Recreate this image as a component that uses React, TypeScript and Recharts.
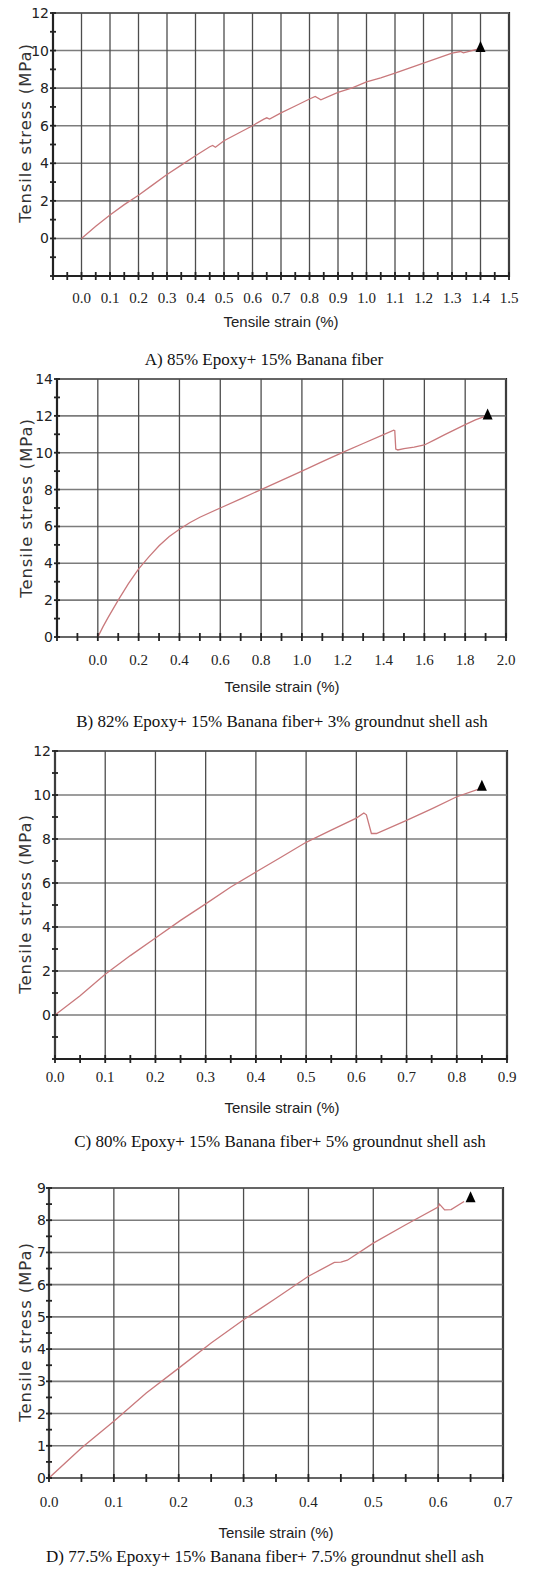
import React from "react";
import { ComposedChart, Line, Scatter, XAxis, YAxis, ReferenceLine, ReferenceArea } from "recharts";

// A) 85% Epoxy + 15% Banana fiber
const strainA = [0, 0.05, 0.1, 0.15, 0.2, 0.25, 0.3, 0.35, 0.4, 0.45, 0.46, 0.47, 0.5, 0.55, 0.6, 0.64, 0.65, 0.66, 0.7, 0.75, 0.8, 0.82, 0.84, 0.9, 0.95, 1.0, 1.05, 1.1, 1.15, 1.2, 1.25, 1.3, 1.33, 1.34, 1.37, 1.39];
const stressA = [0, 0.65, 1.25, 1.8, 2.3, 2.85, 3.4, 3.9, 4.4, 4.88, 4.95, 4.85, 5.2, 5.6, 6.0, 6.35, 6.42, 6.35, 6.68, 7.05, 7.42, 7.56, 7.38, 7.77, 8.02, 8.33, 8.55, 8.8, 9.07, 9.33, 9.6, 9.86, 9.95, 9.88, 10.0, 10.08];
const tipA = { x: 1.4, y: 10.16 };
const xMajorA = [0, 0.1, 0.2, 0.3, 0.4, 0.5, 0.6, 0.7, 0.8, 0.9, 1.0, 1.1, 1.2, 1.3, 1.4, 1.5];
const xTicksA = [-0.1, -0.05, 0, 0.05, 0.1, 0.15, 0.2, 0.25, 0.3, 0.35, 0.4, 0.45, 0.5, 0.55, 0.6, 0.65, 0.7, 0.75, 0.8, 0.85, 0.9, 0.95, 1.0, 1.05, 1.1, 1.15, 1.2, 1.25, 1.3, 1.35, 1.4, 1.45, 1.5];
const yMajorA = [0, 2, 4, 6, 8, 10, 12];
const yTicksA = [-2, -1, 0, 1, 2, 3, 4, 5, 6, 7, 8, 9, 10, 11, 12];

// B) 82% Epoxy + 15% Banana fiber + 3% groundnut shell ash
const strainB = [0, 0.025, 0.05, 0.1, 0.15, 0.2, 0.25, 0.3, 0.35, 0.4, 0.45, 0.5, 0.6, 0.7, 0.8, 0.9, 1.0, 1.1, 1.2, 1.3, 1.4, 1.45, 1.455, 1.46, 1.47, 1.5, 1.55, 1.6, 1.65, 1.7, 1.75, 1.8, 1.85, 1.9];
const stressB = [0, 0.55, 1.05, 2.0, 2.9, 3.7, 4.35, 4.95, 5.45, 5.85, 6.2, 6.5, 7.0, 7.5, 8.0, 8.5, 9.0, 9.52, 10.02, 10.5, 10.98, 11.22, 11.2, 10.2, 10.15, 10.22, 10.3, 10.42, 10.7, 10.98, 11.25, 11.52, 11.78, 11.98];
const tipB = { x: 1.91, y: 12.05 };
const xMajorB = [0, 0.2, 0.4, 0.6, 0.8, 1.0, 1.2, 1.4, 1.6, 1.8, 2.0];
const xTicksB = [-0.2, -0.1, 0, 0.1, 0.2, 0.3, 0.4, 0.5, 0.6, 0.7, 0.8, 0.9, 1.0, 1.1, 1.2, 1.3, 1.4, 1.5, 1.6, 1.7, 1.8, 1.9, 2.0];
const yMajorB = [0, 2, 4, 6, 8, 10, 12, 14];
const yTicksB = [0, 1, 2, 3, 4, 5, 6, 7, 8, 9, 10, 11, 12, 13, 14];

// C) 80% Epoxy + 15% Banana fiber + 5% groundnut shell ash
const strainC = [0, 0.05, 0.1, 0.15, 0.2, 0.25, 0.3, 0.35, 0.4, 0.45, 0.5, 0.55, 0.6, 0.615, 0.62, 0.63, 0.64, 0.7, 0.75, 0.8, 0.845];
const stressC = [0, 0.88, 1.85, 2.7, 3.5, 4.3, 5.05, 5.82, 6.5, 7.17, 7.85, 8.4, 8.95, 9.18, 9.1, 8.25, 8.25, 8.85, 9.37, 9.92, 10.28];
const tipC = { x: 0.85, y: 10.4 };
const xMajorC = [0, 0.1, 0.2, 0.3, 0.4, 0.5, 0.6, 0.7, 0.8, 0.9];
const xTicksC = [0, 0.05, 0.1, 0.15, 0.2, 0.25, 0.3, 0.35, 0.4, 0.45, 0.5, 0.55, 0.6, 0.65, 0.7, 0.75, 0.8, 0.85, 0.9];
const yMajorC = [0, 2, 4, 6, 8, 10, 12];
const yTicksC = [-2, -1, 0, 1, 2, 3, 4, 5, 6, 7, 8, 9, 10, 11, 12];

// D) 77.5% Epoxy + 15% Banana fiber + 7.5% groundnut shell ash
const strainD = [0, 0.05, 0.1, 0.15, 0.2, 0.25, 0.3, 0.35, 0.4, 0.44, 0.45, 0.46, 0.5, 0.55, 0.6, 0.602, 0.61, 0.62, 0.64];
const stressD = [0, 0.93, 1.76, 2.64, 3.41, 4.19, 4.91, 5.58, 6.26, 6.69, 6.7, 6.76, 7.29, 7.86, 8.41, 8.5, 8.32, 8.33, 8.58];
const tipD = { x: 0.65, y: 8.7 };
const xMajorD = [0, 0.1, 0.2, 0.3, 0.4, 0.5, 0.6, 0.7];
const xTicksD = [0, 0.05, 0.1, 0.15, 0.2, 0.25, 0.3, 0.35, 0.4, 0.45, 0.5, 0.55, 0.6, 0.65, 0.7];
const yMajorD = [0, 1, 2, 3, 4, 5, 6, 7, 8, 9];
const yTicksD = [0, 0.5, 1, 1.5, 2, 2.5, 3, 3.5, 4, 4.5, 5, 5.5, 6, 6.5, 7, 7.5, 8, 8.5, 9];

const captions = [
  "A) 85% Epoxy+ 15% Banana fiber",
  "B) 82% Epoxy+ 15% Banana fiber+ 3% groundnut shell ash",
  "C) 80% Epoxy+ 15% Banana fiber+ 5% groundnut shell ash",
  "D) 77.5% Epoxy+ 15% Banana fiber+ 7.5% groundnut shell ash",
];

const zip = (xs: number[], ys: number[]) => xs.map((x, i) => ({ x, y: ys[i] }));
const has = (arr: number[], v: number) => arr.some((a) => Math.abs(a - v) < 1e-9);

const LINE = "#c9797c";
const GRID_V = "#4d4d4d";
const GRID_H = "#7c7c7c";
const FRAME = "#222";

function Triangle(props: any) {
  const { cx, cy } = props;
  return <polygon points={`${cx},${cy - 6.5} ${cx - 5},${cy + 4.5} ${cx + 5},${cy + 4.5}`} fill="#000" />;
}

function Panel(p: any) {
  const { top, height, plot, xDomain, yDomain, xMajor, xTicks, yMajor, yTicks, data, tip, xGap, yGap } = p;
  // axes take 1px each (a zero-size axis is not drawn)
  const margin = { top: plot.top - top, left: plot.left - 1, right: 558 - plot.right, bottom: top + height - plot.bottom - 1 };
  return (
    <div style={{ position: "absolute", left: 0, top, width: 558, height }}>
      <ComposedChart width={558} height={height} margin={margin}>
        <XAxis
          type="number"
          dataKey="x"
          domain={xDomain}
          ticks={xTicks}
          interval={0}
          height={1}
          tickSize={0}
          tickMargin={0}
          axisLine={false}
          tickLine={false}
          allowDataOverflow
          tick={(t: any) => (
            <g>
              <line x1={t.x} x2={t.x} y1={t.y - 4} y2={t.y + 4} stroke={FRAME} strokeWidth={1.8} />
              {has(xMajor, t.payload.value) && (
                <text x={t.x} y={t.y + xGap + 5} textAnchor="middle" fontFamily="Liberation Serif" fontSize={15} fill="#222">
                  {Number(t.payload.value).toFixed(1)}
                </text>
              )}
            </g>
          )}
        />
        <YAxis
          type="number"
          domain={yDomain}
          ticks={yTicks}
          interval={0}
          width={1}
          tickSize={0}
          tickMargin={0}
          axisLine={false}
          tickLine={false}
          allowDataOverflow
          tick={(t: any) => (
            <g>
              <line x1={t.x - 3} x2={t.x + 3} y1={t.y} y2={t.y} stroke={FRAME} strokeWidth={1.8} />
              {has(yMajor, t.payload.value) && (
                <text x={t.x - yGap} y={t.y + 5} textAnchor="end" fontFamily="DejaVu Sans" fontSize={14} fill="#222">
                  {t.payload.value}
                </text>
              )}
            </g>
          )}
        />
        {yMajor.map((v: number) => (
          <ReferenceLine key={"y" + v} y={v} stroke={GRID_H} strokeWidth={1.6} ifOverflow="visible" />
        ))}
        {xMajor.map((v: number) => (
          <ReferenceLine key={"x" + v} x={v} stroke={GRID_V} strokeWidth={1.3} ifOverflow="visible" />
        ))}
        <ReferenceArea x1={xDomain[0]} x2={xDomain[1]} y1={yDomain[0]} y2={yDomain[1]} fill="none" fillOpacity={0} stroke={FRAME} strokeWidth={2.2} ifOverflow="visible" />
        <Line data={data} dataKey="y" type="linear" stroke={LINE} strokeWidth={1.3} dot={false} isAnimationActive={false} />
        <Scatter data={[tip]} dataKey="y" shape={Triangle} isAnimationActive={false} />
      </ComposedChart>
    </div>
  );
}

function Caption({ text, cx, cy }: { text: string; cx: number; cy: number }) {
  return (
    <div style={{ position: "absolute", left: cx - 270, top: cy - 12, width: 540, height: 24, lineHeight: "24px", textAlign: "center", fontFamily: "Liberation Serif", fontSize: 17, color: "#111", whiteSpace: "nowrap" }}>
      {text}
    </div>
  );
}

function XTitle({ cx, cy }: { cx: number; cy: number }) {
  return (
    <div style={{ position: "absolute", left: cx - 100, top: cy - 10, width: 200, height: 20, lineHeight: "20px", textAlign: "center", fontFamily: "Liberation Sans", fontSize: 15, color: "#222", whiteSpace: "nowrap" }}>
      Tensile strain (%)
    </div>
  );
}

function YTitle({ cx, cy }: { cx: number; cy: number }) {
  return (
    <div style={{ position: "absolute", left: cx, top: cy, transform: "translate(-50%, -50%) rotate(-90deg)", fontFamily: "DejaVu Sans", fontSize: 16.5, color: "#333", whiteSpace: "nowrap", letterSpacing: 0.9 }}>
      Tensile stress (MPa)
    </div>
  );
}

export default function App() {
  return (
    <div style={{ position: "absolute", left: 0, top: 0, width: 558, height: 1570, background: "#fff" }}>
      <Panel top={0} height={310} plot={{ top: 13, left: 53, right: 509, bottom: 276 }} xDomain={[-0.1, 1.5]} yDomain={[-2, 12]} xMajor={xMajorA} xTicks={xTicksA} yMajor={yMajorA} yTicks={yTicksA} data={zip(strainA, stressA)} tip={tipA} xGap={22} yGap={4} />
      <YTitle cx={25} cy={133} />
      <XTitle cx={281} cy={322} />
      <Caption text={captions[0]} cx={264} cy={360} />

      <Panel top={370} height={305} plot={{ top: 379, left: 57, right: 506, bottom: 637 }} xDomain={[-0.2, 2.0]} yDomain={[0, 14]} xMajor={xMajorB} xTicks={xTicksB} yMajor={yMajorB} yTicks={yTicksB} data={zip(strainB, stressB)} tip={tipB} xGap={23} yGap={4} />
      <YTitle cx={26} cy={508} />
      <XTitle cx={282} cy={687} />
      <Caption text={captions[1]} cx={282} cy={722} />

      <Panel top={740} height={355} plot={{ top: 751, left: 55, right: 507, bottom: 1059 }} xDomain={[0, 0.9]} yDomain={[-2, 12]} xMajor={xMajorC} xTicks={xTicksC} yMajor={yMajorC} yTicks={yTicksC} data={zip(strainC, stressC)} tip={tipC} xGap={18} yGap={4} />
      <YTitle cx={25} cy={904} />
      <XTitle cx={282} cy={1108} />
      <Caption text={captions[2]} cx={280} cy={1142} />

      <Panel top={1175} height={345} plot={{ top: 1188, left: 49, right: 503, bottom: 1478 }} xDomain={[0, 0.7]} yDomain={[0, 9]} xMajor={xMajorD} xTicks={xTicksD} yMajor={yMajorD} yTicks={yTicksD} data={zip(strainD, stressD)} tip={tipD} xGap={24} yGap={3} />
      <YTitle cx={25} cy={1332} />
      <XTitle cx={276} cy={1533} />
      <Caption text={captions[3]} cx={265} cy={1557} />
    </div>
  );
}
